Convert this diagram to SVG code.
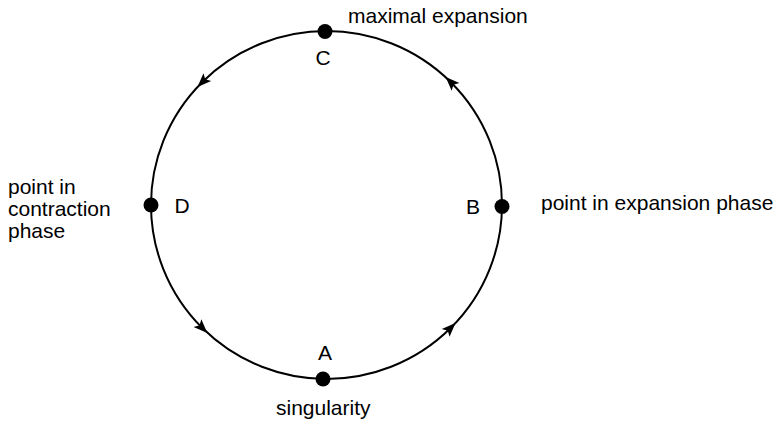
<svg xmlns="http://www.w3.org/2000/svg" xmlns:xlink="http://www.w3.org/1999/xlink" width="779" height="421" viewBox="0 0 779 421">
  <style>
    .t { font-family: "Liberation Sans", Arial, sans-serif; font-size: 21px; fill: #000; }
    .m { text-anchor: middle; }
    .dot { fill: #000; }
    .ring { fill: none; stroke: #000; stroke-width: 2; }
  </style>
  <defs>
    <path id="ah" d="M7,0 L-7,-5.5 L-4,0 L-7,5.5 Z" fill="#000"/>
  </defs>
  <rect width="779" height="421" fill="#fff"/>
  <g id="connectors">
    <ellipse class="ring" cx="326.5" cy="205" rx="175.5" ry="174"/>
    <use xlink:href="#ah" transform="translate(450.6,82) rotate(-135)"/>
    <use xlink:href="#ah" transform="translate(202.4,82) rotate(135)"/>
    <use xlink:href="#ah" transform="translate(202.4,328) rotate(45)"/>
    <use xlink:href="#ah" transform="translate(450.6,328) rotate(-45)"/>
  </g>
  <g id="nodeC">
    <circle class="dot" cx="325" cy="31.5" r="7.5"/>
    <text class="t m" x="323" y="65">C</text>
    <text class="t" x="348" y="23">maximal expansion</text>
  </g>
  <g id="nodeB">
    <circle class="dot" cx="502" cy="206.5" r="7.5"/>
    <text class="t m" x="473" y="214">B</text>
    <text class="t" x="541" y="210">point in expansion phase</text>
  </g>
  <g id="nodeD">
    <circle class="dot" cx="151" cy="205" r="7.5"/>
    <text class="t m" x="182" y="213">D</text>
    <text class="t" x="8" y="194">point in</text>
    <text class="t" x="8" y="216">contraction</text>
    <text class="t" x="8" y="238">phase</text>
  </g>
  <g id="nodeA">
    <circle class="dot" cx="323" cy="379" r="7.5"/>
    <text class="t m" x="325" y="360">A</text>
    <text class="t" x="276" y="415">singularity</text>
  </g>
</svg>
